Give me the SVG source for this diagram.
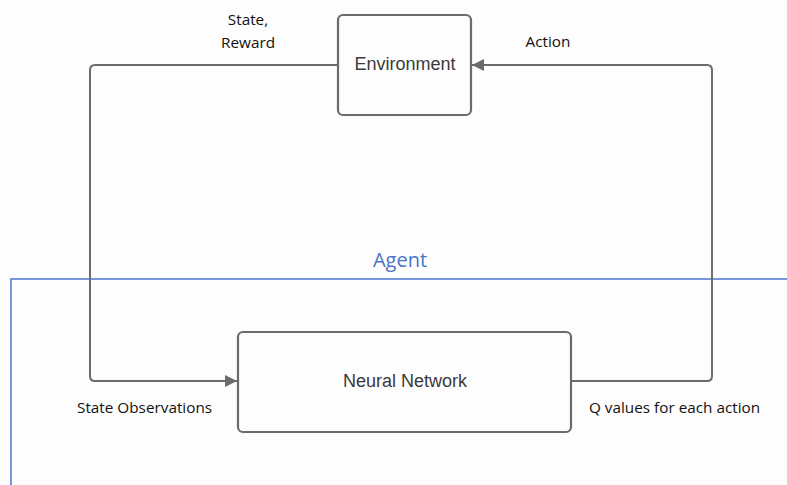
<svg xmlns="http://www.w3.org/2000/svg" width="787" height="485" viewBox="0 0 787 485">
<style>
.node{fill:#fdfdfd;stroke:#6b6b6b;stroke-width:2.2}
.nt{font-family:"Liberation Sans",Arial,sans-serif;font-size:18px;fill:#3a3a3a;text-anchor:middle}
.lbl{font-family:"Open Sans","Liberation Sans",sans-serif;font-size:15.3px;fill:#111}
.conn{fill:none;stroke:#6b6b6b;stroke-width:2}
.agent{fill:none;stroke:#4a74c8;stroke-width:1.5}
</style>
<defs>
<marker id="ah" viewBox="0 0 10 10" refX="10" refY="5" markerWidth="14" markerHeight="12" markerUnits="userSpaceOnUse" orient="auto">
<path d="M0,0 L10,5 L0,10 z" fill="#6b6b6b"/>
</marker>
</defs>
<rect width="787" height="485" fill="#fdfdfd"/>
<g id="agent">
<path class="agent" d="M11,485 L11,279 L787,279"/>
<text x="400" y="267" font-family="'Open Sans','Liberation Sans',sans-serif" font-size="20" fill="#4a74c8" text-anchor="middle">Agent</text>
</g>
<g id="connectors">
<path class="conn" d="M338,65 L95,65 Q90,65 90,70 L90,376 Q90,381 95,381 L237,381" marker-end="url(#ah)"/>
<path class="conn" d="M571,381 L707,381 Q712,381 712,376 L712,70 Q712,65 707,65 L472,65" marker-end="url(#ah)"/>
</g>
<g id="environment">
<rect class="node" x="338" y="15" width="133" height="100" rx="5"/>
<text class="nt" x="405" y="70">Environment</text>
</g>
<g id="neural-network">
<rect class="node" x="238" y="332" width="333" height="100" rx="5"/>
<text class="nt" x="405" y="387">Neural Network</text>
</g>
<g id="labels">
<text class="lbl" x="248" y="25" text-anchor="middle">State,</text>
<text class="lbl" x="248" y="48" text-anchor="middle">Reward</text>
<text class="lbl" x="548" y="47" text-anchor="middle">Action</text>
<text class="lbl" x="77" y="413">State Observations</text>
<text class="lbl" x="589" y="413">Q values for each action</text>
</g>
</svg>
